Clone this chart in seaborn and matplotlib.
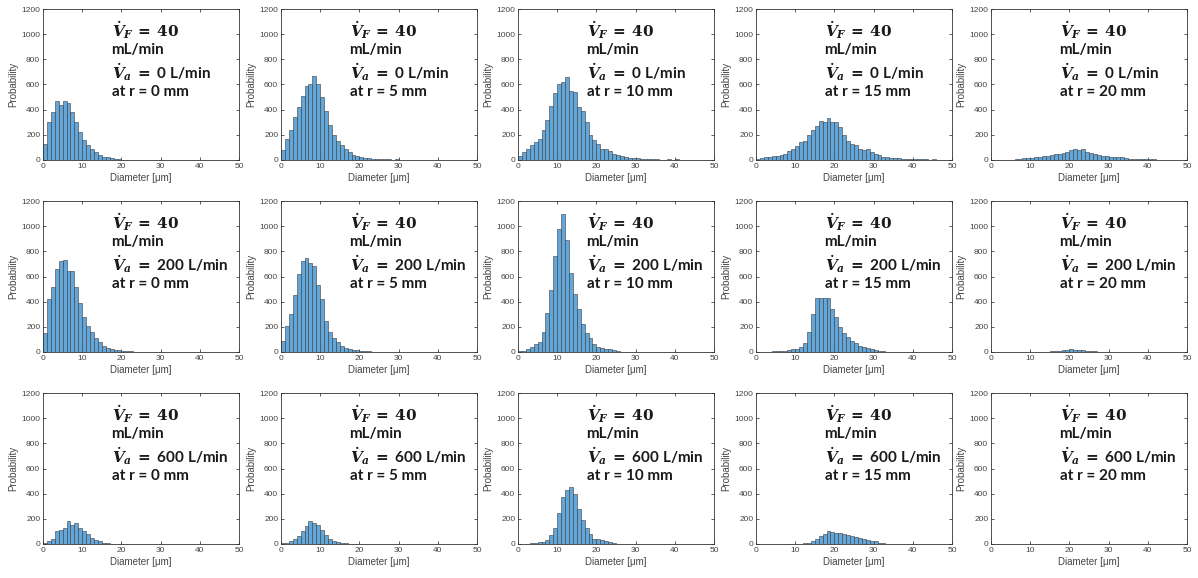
import numpy as np
import pandas as pd
import matplotlib
matplotlib.use("Agg")
import matplotlib.pyplot as plt
import seaborn as sns

# bin edges: 1 um bins from 0 to 50
bin_edges = list(range(0, 51))

air_flows = [0, 200, 600]          # L/min
radii = [0, 5, 10, 15, 20]         # mm
fuel_flow = 40                     # mL/min

# counts per 1 um bin, starting at 0 um
va0_r0 = [130, 300, 380, 470, 440, 470, 450, 380, 300, 220, 160, 120, 90, 60, 40, 25, 20, 12, 8, 5, 3]
va0_r5 = [80, 170, 240, 340, 420, 510, 590, 600, 670, 600, 500, 390, 280, 200, 150, 120, 90, 60, 40, 30,
          25, 18, 12, 10, 6, 5, 8, 4, 3, 4, 2, 1, 1, 2, 1]
va0_r10 = [30, 60, 90, 120, 140, 170, 240, 320, 430, 530, 600, 620, 660, 550, 540, 420, 390, 300, 200, 160,
           130, 90, 90, 70, 50, 40, 30, 25, 15, 15, 12, 10, 8, 6, 5, 4, 3, 3, 4, 2, 4, 1, 2, 2]
va0_r15 = [10, 15, 20, 25, 35, 30, 40, 50, 70, 90, 110, 140, 150, 200, 240, 270, 310, 300, 330, 300,
           300, 260, 200, 150, 130, 120, 90, 80, 90, 60, 50, 40, 20, 20, 15, 15, 12, 8, 6, 10,
           8, 5, 5, 4, 3, 4, 2, 3, 2, 2]
va0_r20 = [0, 0, 0, 0, 3, 3, 5, 8, 12, 15, 18, 20, 25, 35, 35, 40, 45, 50, 55, 65,
           80, 85, 80, 85, 60, 55, 45, 40, 30, 35, 25, 25, 20, 20, 15, 10, 8, 6, 4, 5,
           6, 4, 3, 3, 2]

va200_r0 = [150, 420, 520, 660, 720, 730, 640, 640, 520, 390, 280, 210, 160, 110, 80, 50, 30, 20, 15, 12,
            10, 6, 5, 3]
va200_r5 = [90, 210, 300, 450, 620, 720, 750, 710, 680, 530, 420, 250, 160, 110, 80, 50, 30, 20, 15, 12,
            10, 6, 4]
va200_r10 = [5, 10, 20, 40, 60, 80, 160, 310, 490, 760, 980, 1100, 890, 630, 460, 340, 220, 150, 110, 60,
             40, 35, 25, 25, 15, 5]
va200_r15 = [0, 0, 0, 3, 5, 8, 5, 5, 15, 20, 25, 40, 70, 160, 300, 430, 430, 430, 430, 340,
             280, 200, 150, 120, 90, 70, 50, 40, 35, 25, 15, 8, 5, 3, 3, 2, 2, 3, 2, 0, 2]
va200_r20 = [0, 0, 0, 0, 0, 0, 0, 0, 0, 0, 0, 0, 0, 0, 3, 5, 8, 10, 15, 18,
             20, 18, 15, 12, 8, 6, 4, 3]

va600_r0 = [10, 25, 40, 100, 110, 130, 180, 150, 170, 130, 100, 80, 50, 35, 20, 10, 5, 3, 2]
va600_r5 = [5, 10, 20, 40, 60, 100, 140, 180, 170, 150, 110, 70, 40, 25, 15, 10, 5, 3]
va600_r10 = [0, 0, 3, 5, 10, 12, 15, 30, 70, 130, 250, 370, 430, 450, 400, 280, 190, 130, 80, 40,
             40, 35, 20, 15, 8, 3]
va600_r15 = [0, 0, 0, 0, 0, 0, 0, 0, 0, 0, 0, 0, 5, 10, 20, 40, 60, 80, 100, 95,
             85, 85, 80, 70, 60, 55, 45, 40, 30, 25, 20, 10, 5, 3]
va600_r20 = []

panels = [
    [va0_r0, va0_r5, va0_r10, va0_r15, va0_r20],
    [va200_r0, va200_r5, va200_r10, va200_r15, va200_r20],
    [va600_r0, va600_r5, va600_r10, va600_r15, va600_r20],
]

sns.set_theme(style="ticks")
plt.rcParams["font.family"] = ["Liberation Sans", "DejaVu Sans"]
plt.rcParams["mathtext.fontset"] = "custom"
plt.rcParams["mathtext.it"] = "DejaVu Serif:italic:bold"
plt.rcParams["mathtext.rm"] = "DejaVu Serif:bold"
plt.rcParams["mathtext.bf"] = "DejaVu Serif:bold"

W, H = 1198, 578
fig = plt.figure(figsize=(W / 100, H / 100), dpi=100)

lefts = [43, 281, 518, 756, 991]
bottoms = [160, 352, 544]
ax_w, ax_h = 196, 151

bar_color = "#62a6da"
text_color = "#1a1a1a"
tick_color = "#444444"

for i, va in enumerate(air_flows):
    for j, r in enumerate(radii):
        ax = fig.add_axes([lefts[j] / W, 1 - bottoms[i] / H, ax_w / W, ax_h / H])
        vals = panels[i][j]
        counts = list(vals) + [0] * (len(bin_edges) - 1 - len(vals))
        df = pd.DataFrame({"d": [b + 0.5 for b in bin_edges[:-1]], "n": counts})
        if sum(counts) > 0:
            sns.histplot(data=df, x="d", weights="n", bins=bin_edges, ax=ax,
                         color=bar_color, edgecolor="#3a3a3a", linewidth=0.4, alpha=1)
        ax.set_xlim(0, 50)
        ax.set_ylim(0, 1200)
        ax.set_xticks(range(0, 51, 10))
        ax.set_yticks(range(0, 1201, 200))
        ax.tick_params(direction="in", length=2.5, width=0.6, top=True, right=True,
                       labelsize=6, colors=tick_color, pad=2)
        for s in ax.spines.values():
            s.set_linewidth(0.6)
            s.set_color("#333333")
        ax.set_xlabel("Diameter [μm]", fontsize=7, color=tick_color, labelpad=2)
        ax.set_ylabel("Probability", fontsize=7, color=tick_color, labelpad=2)

        tx = 0.35
        kw = dict(transform=ax.transAxes, ha="left", va="center", fontsize=11,
                  color=text_color, fontweight="bold", family=["Lato", "DejaVu Sans"])
        ax.text(tx, 0.861, r"$\dot{V}_F\,=\,$" + f"$\\mathrm{{{fuel_flow}}}$", **kw)
        ax.text(tx, 0.728, "mL/min", **kw)
        ax.text(tx, 0.583, r"$\dot{V}_a\,=$" + f" {va} L/min", **kw)
        ax.text(tx, 0.452, f"at r = {r} mm", **kw)

fig.savefig("out.png", dpi=100)
